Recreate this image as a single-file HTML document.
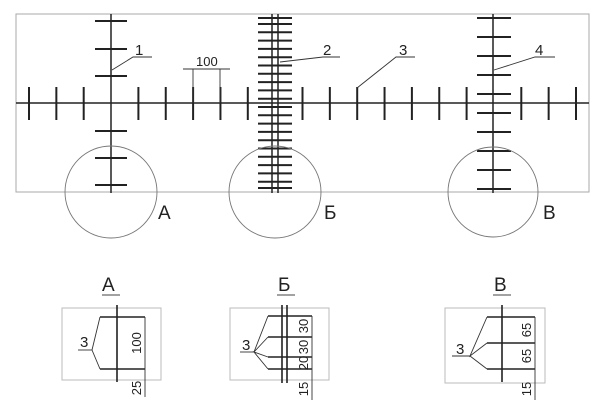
<!DOCTYPE html>
<html><head><meta charset="utf-8"><style>
html,body{margin:0;padding:0;background:#fff;width:611px;height:415px;overflow:hidden}
svg{display:block}
text{font-family:"Liberation Sans",sans-serif;fill:#222}
</style></head><body>
<svg id="s" width="611" height="415" viewBox="0 0 611 415" xmlns="http://www.w3.org/2000/svg">
<g fill="none" stroke="#aaa" stroke-width="1">
<rect x="16" y="14" width="573" height="178"/>
</g>
<g id="ticks" stroke="#222" stroke-width="2"></g>
<g stroke="#222" stroke-width="1.5">
<line x1="16" y1="103" x2="589" y2="103"/>
<line x1="111" y1="14" x2="111" y2="193"/>
<line x1="272" y1="14" x2="272" y2="193"/>
<line x1="278" y1="14" x2="278" y2="193"/>
<line x1="493" y1="14" x2="493" y2="193"/>
</g>
<g stroke="#333" stroke-width="0.9" fill="none">
<polyline points="112,70 133,57 152,57"/>
<polyline points="280,62 323,57 340,57"/>
<polyline points="357,88 396,57 415,57"/>
<polyline points="494,70 535,57 555,57"/>
<line x1="193" y1="69" x2="193" y2="103"/>
<line x1="220" y1="69" x2="220" y2="103"/>
<line x1="183" y1="69" x2="230" y2="69"/>
</g>
<g font-size="15"><text x="135" y="55">1</text><text x="323" y="55">2</text><text x="399" y="55">3</text><text x="535" y="55">4</text><text x="196" y="66" font-size="13">100</text></g>
<g fill="none" stroke="#777" stroke-width="0.9">
<circle cx="111" cy="192" r="46"/><circle cx="275" cy="192" r="46"/><circle cx="493" cy="192" r="45"/>
</g>
<g font-size="19"><text x="158" y="219">А</text><text x="324" y="219">Б</text><text x="543" y="219">В</text>
<text x="102" y="291">А</text><text x="278" y="291">Б</text><text x="494" y="291">В</text></g>
<g stroke="#444" stroke-width="1"><line x1="102" y1="295" x2="120" y2="295"/><line x1="277" y1="295" x2="295" y2="295"/><line x1="493" y1="295" x2="511" y2="295"/></g>
<g fill="none" stroke="#bbb" stroke-width="1">
<rect x="62" y="308" width="99" height="72"/><rect x="230" y="308" width="99" height="72"/><rect x="445" y="308" width="100" height="75"/>
</g>
<g stroke="#222" stroke-width="1.6">
<line x1="117" y1="305" x2="117" y2="382"/><line x1="100" y1="317" x2="145" y2="317"/><line x1="100" y1="369" x2="145" y2="369"/>
<line x1="282" y1="305" x2="282" y2="383"/><line x1="287" y1="305" x2="287" y2="383"/>
<line x1="268" y1="316" x2="312" y2="316"/><line x1="268" y1="337" x2="312" y2="337"/><line x1="268" y1="357" x2="312" y2="357"/><line x1="268" y1="369" x2="312" y2="369"/>
<line x1="502" y1="305" x2="502" y2="382"/><line x1="487" y1="317" x2="535" y2="317"/><line x1="487" y1="343" x2="535" y2="343"/><line x1="487" y1="369" x2="535" y2="369"/>
</g>
<g stroke="#333" stroke-width="0.9" fill="none">
<line x1="145" y1="317" x2="145" y2="397"/><line x1="312" y1="316" x2="312" y2="400"/><line x1="535" y1="317" x2="535" y2="400"/>
<polyline points="100,317 92,350 100,369"/><line x1="78" y1="350" x2="92" y2="350"/>
<polyline points="268,316 254,352 268,337"/><polyline points="268,357 254,352 268,369"/><line x1="240" y1="352" x2="254" y2="352"/>
<polyline points="487,317 470,356 487,343"/><line x1="470" y1="356" x2="487" y2="369"/><line x1="452" y1="356" x2="470" y2="356"/>
</g>
<g font-size="15">
<text x="80" y="347">3</text><text x="242" y="350">3</text><text x="456" y="354">3</text>
</g>
<g font-size="13">
<text transform="translate(141,343) rotate(-90)" text-anchor="middle">100</text>
<text transform="translate(141,388) rotate(-90)" text-anchor="middle">25</text>
<text transform="translate(308,326) rotate(-90)" text-anchor="middle">30</text>
<text transform="translate(308,347) rotate(-90)" text-anchor="middle">30</text>
<text transform="translate(308,363) rotate(-90)" text-anchor="middle">20</text>
<text transform="translate(308,389) rotate(-90)" text-anchor="middle">15</text>
<text transform="translate(531,330) rotate(-90)" text-anchor="middle">65</text>
<text transform="translate(531,356) rotate(-90)" text-anchor="middle">65</text>
<text transform="translate(531,389) rotate(-90)" text-anchor="middle">15</text>
</g>
</svg>
<script>
var g=document.getElementById('ticks'),ns='http://www.w3.org/2000/svg';
function L(a,b,c,d){var l=document.createElementNS(ns,'line');l.setAttribute('x1',a);l.setAttribute('y1',b);l.setAttribute('x2',c);l.setAttribute('y2',d);g.appendChild(l);}
for(var k=0;k<=20;k++){if(k==3||k==9||k==17)continue;var x=29+k*27.35;L(x,87,x,120);}
[21,49,76,131,158,185].forEach(function(y){L(95,y,127,y);});
for(var i=0;i<10;i++){var y=18+i*19;L(477,y,511,y);}
L(258,18,292,18);for(var y=24;y<=183;y+=8.3)L(258,y,292,y);L(258,188,292,188);
</script>
</body></html>
